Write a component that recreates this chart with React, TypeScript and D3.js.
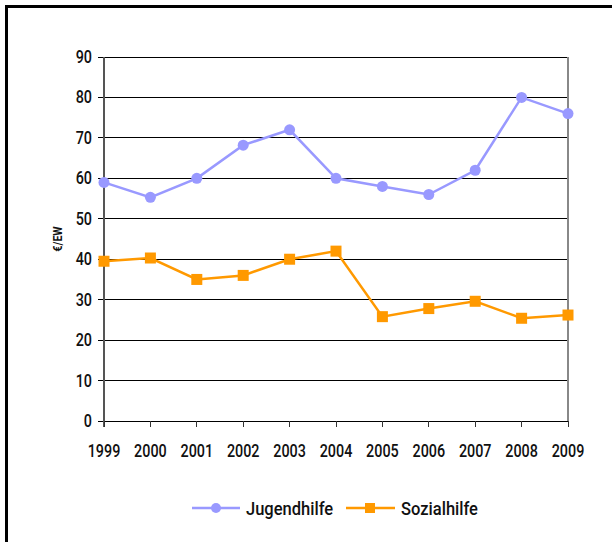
import React from "react";
import * as d3 from "d3";

const years = ["1999", "2000", "2001", "2002", "2003", "2004", "2005", "2006", "2007", "2008", "2009"];
const jugendhilfe = [59, 55.3, 60, 68.2, 72, 60, 58, 56, 62, 80, 76];
const sozialhilfe = [39.5, 40.3, 35, 36, 40, 42, 25.8, 27.8, 29.6, 25.4, 26.2];
const yTicks = [0, 10, 20, 30, 40, 50, 60, 70, 80, 90];

const FONT = "Roboto, 'DejaVu Sans Condensed', Arial, sans-serif";
const BLUE = "#9999FF";
const ORANGE = "#FF9900";

function CText(props: { x: number; y: number; anchor?: string; size: number; sx?: number; weight?: number | string; rotate?: number; children: React.ReactNode }) {
  const { x, y, anchor = "start", size, sx = 0.82, weight = 500, rotate = 0, children } = props;
  return (
    <text
      transform={`translate(${x},${y}) rotate(${rotate}) scale(${sx},1)`}
      textAnchor={anchor}
      fontFamily={FONT}
      fontSize={size}
      fontWeight={weight}
      fill="#111"
    >
      {children}
    </text>
  );
}

export default function App() {
  const left = 104, right = 568, top = 57, bottom = 421;
  const x = d3.scalePoint<string>().domain(years).range([left, right]);
  const y = d3.scaleLinear().domain([0, 90]).range([bottom, top]);
  const line = d3.line<number>().x((_, i) => x(years[i])!).y((d) => y(d));

  return (
    <svg width={612} height={542} style={{ position: "absolute", left: 0, top: 0 }}>
      <rect x={0} y={0} width={612} height={542} fill="#fff" />
      <rect x={6.5} y={6.5} width={640} height={600} fill="none" stroke="#000" strokeWidth={3} />
      {yTicks.map((t) => (
        <g key={t}>
          <line x1={98} x2={right} y1={y(t)} y2={y(t)} stroke="#000" strokeWidth={1} shapeRendering="crispEdges" />
          <CText x={92} y={y(t) + 6} anchor="end" size={17.5}>{t}</CText>
        </g>
      ))}
      <line x1={right} x2={right} y1={top} y2={bottom} stroke="#888" strokeWidth={2} shapeRendering="crispEdges" />
      <line x1={left} x2={left} y1={top} y2={bottom + 6} stroke="#555" strokeWidth={1.5} shapeRendering="crispEdges" />
      {years.map((yr) => (
        <g key={yr}>
          <line x1={x(yr)!} x2={x(yr)!} y1={bottom} y2={bottom + 6} stroke="#333" strokeWidth={1} shapeRendering="crispEdges" />
          <CText x={x(yr)!} y={457} anchor="middle" size={17.5}>{yr}</CText>
        </g>
      ))}
      <CText x={62} y={(top + bottom) / 2} anchor="middle" size={13} weight="bold" rotate={-90}>€/EW</CText>
      <path d={line(jugendhilfe)!} fill="none" stroke={BLUE} strokeWidth={2.5} />
      {jugendhilfe.map((v, i) => (
        <circle key={i} cx={x(years[i])!} cy={y(v)} r={5.5} fill={BLUE} />
      ))}
      <path d={line(sozialhilfe)!} fill="none" stroke={ORANGE} strokeWidth={2.5} />
      {sozialhilfe.map((v, i) => (
        <rect key={i} x={x(years[i])! - 5.5} y={y(v) - 5.5} width={11} height={11} fill={ORANGE} />
      ))}
      <line x1={192} x2={240} y1={508} y2={508} stroke={BLUE} strokeWidth={2.5} />
      <circle cx={216} cy={508} r={5} fill={BLUE} />
      <CText x={246} y={515} size={19} sx={0.87}>Jugendhilfe</CText>
      <line x1={346} x2={395} y1={508} y2={508} stroke={ORANGE} strokeWidth={2.5} />
      <rect x={365} y={503} width={10} height={10} fill={ORANGE} />
      <CText x={401} y={515} size={19} sx={0.87}>Sozialhilfe</CText>
    </svg>
  );
}
